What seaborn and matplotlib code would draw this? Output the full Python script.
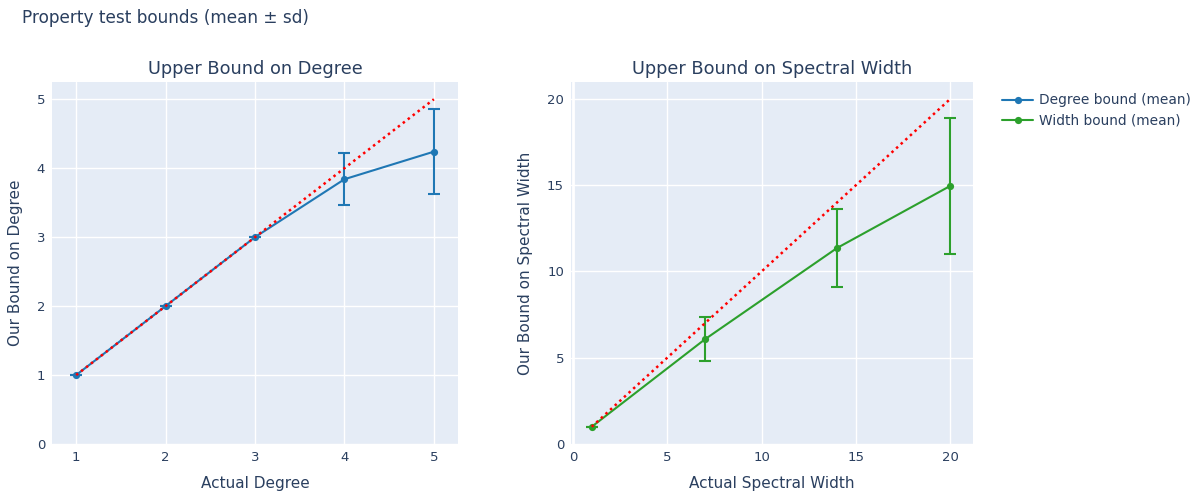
import matplotlib
matplotlib.use("Agg")
import matplotlib.pyplot as plt
import seaborn as sns
import pandas as pd
import numpy as np

# ---- data ----
degree_x = [1, 2, 3, 4, 5]
degree_mean = [1.0, 2.0, 3.0, 3.84, 4.24]
degree_sd = [0.0, 0.0, 0.0, 0.375, 0.62]

width_x = [1, 7, 14, 20]
width_mean = [1.0, 6.07, 11.36, 14.96]
width_sd = [0.0, 1.27, 2.27, 3.93]

degree_ref_x = [1, 5]
width_ref_x = [1, 20]

degree_ticks_x = [1, 2, 3, 4, 5]
degree_ticks_y = [0, 1, 2, 3, 4, 5]
width_ticks = [0, 5, 10, 15, 20]

TEXT = "#2a3f5f"
BG = "#E5ECF6"
BLUE = "#1f77b4"
GREEN = "#2ca02c"

sns.set_theme(style="darkgrid", rc={
    "axes.facecolor": BG,
    "grid.color": "white",
    "grid.linewidth": 1.0,
    "axes.edgecolor": BG,
    "text.color": TEXT,
    "axes.labelcolor": TEXT,
    "xtick.color": TEXT,
    "ytick.color": TEXT,
})
plt.rcParams["font.family"] = ["DejaVu Sans"]

fig = plt.figure(figsize=(11.9, 4.94), dpi=100)
ax1 = fig.add_axes([0.0437, 0.1012, 0.3412, 0.7328])
ax2 = fig.add_axes([0.4798, 0.1012, 0.3378, 0.7328])

df_deg = pd.DataFrame({"x": degree_x, "y": degree_mean, "sd": degree_sd})
df_wid = pd.DataFrame({"x": width_x, "y": width_mean, "sd": width_sd})

lw = 1.5
ms = 5.2
cap = 4.0

# Left panel
sns.lineplot(data=df_deg, x="x", y="y", ax=ax1, color=BLUE, marker="o",
             markersize=ms, markeredgewidth=0, linewidth=lw,
             label="Degree bound (mean)", legend=False)
ax1.errorbar(df_deg["x"], df_deg["y"], yerr=df_deg["sd"], fmt="none",
             ecolor=BLUE, elinewidth=lw, capsize=cap, capthick=lw)
ax1.plot(degree_ref_x, degree_ref_x, color="red", linestyle=(0, (1, 1.5)),
         linewidth=1.8)
ax1.set_xlim(0.73, 5.27)
ax1.set_ylim(0, 5.25)
ax1.set_xticks(degree_ticks_x)
ax1.set_yticks(degree_ticks_y)

# Right panel
sns.lineplot(data=df_wid, x="x", y="y", ax=ax2, color=GREEN, marker="o",
             markersize=ms, markeredgewidth=0, linewidth=lw,
             label="Width bound (mean)", legend=False)
ax2.errorbar(df_wid["x"], df_wid["y"], yerr=df_wid["sd"], fmt="none",
             ecolor=GREEN, elinewidth=lw, capsize=cap, capthick=lw)
ax2.plot(width_ref_x, width_ref_x, color="red", linestyle=(0, (1, 1.5)),
         linewidth=1.8)
ax2.set_xlim(-0.1, 21.2)
ax2.set_ylim(0, 20.98)
ax2.set_xticks(width_ticks)
ax2.set_yticks(width_ticks)

for ax, title, xl, yl in [
    (ax1, "Upper Bound on Degree", "Actual Degree", "Our Bound on Degree"),
    (ax2, "Upper Bound on Spectral Width", "Actual Spectral Width", "Our Bound on Spectral Width"),
]:
    ax.set_title(title, fontsize=12.8, color=TEXT, pad=6)
    ax.set_xlabel(xl, fontsize=11, color=TEXT, labelpad=9)
    ax.set_ylabel(yl, fontsize=11, color=TEXT, labelpad=10)
    ax.tick_params(axis="both", labelsize=9.5, length=0, pad=5, colors=TEXT)
    for s in ax.spines.values():
        s.set_visible(False)
    ax.grid(True, color="white", linewidth=1.0)

ax2.axvline(0, color="white", linewidth=2, zorder=0.5)

fig.text(22 / 1190, 1 - 18 / 494, "Property test bounds (mean ± sd)",
         fontsize=12.2, color=TEXT, ha="left", va="center")

# Legend
h1, l1 = ax1.get_legend_handles_labels()
h2, l2 = ax2.get_legend_handles_labels()
fig.legend(h1 + h2, l1 + l2, loc="upper left", bbox_to_anchor=(990 / 1190, 1 - 81 / 494),
           frameon=False, fontsize=9.9, handlelength=2.2, labelspacing=0.45,
           handletextpad=0.45, labelcolor=TEXT)

fig.savefig("out.png", dpi=100, facecolor="white")
